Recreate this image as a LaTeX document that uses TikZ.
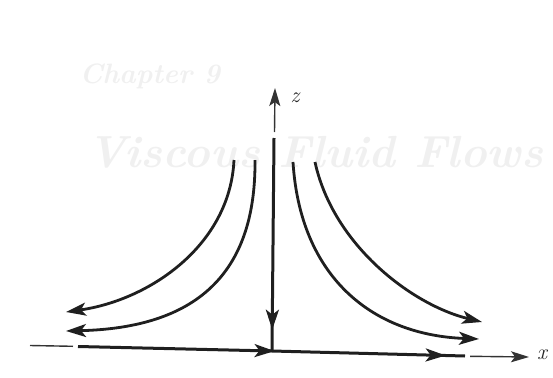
\documentclass[tikz,border=0pt]{standalone}
\usetikzlibrary{arrows.meta,decorations.markings}
\begin{document}
\begin{tikzpicture}[x=1pt,y=-1pt,
  flow/.style={line width=2.8pt,color=black!88,-{Stealth[length=20pt,width=13pt,inset=5pt]}},
  thinaxis/.style={line width=1.4pt,color=black!80},
  thickaxis/.style={line width=3pt,color=black!88},
  midleft/.style={postaction={decorate},decoration={markings,mark=at position #1 with {\arrow{Stealth[length=20pt,width=13pt,inset=5pt,reversed]}}}},
  midfwd/.style={postaction={decorate},decoration={markings,mark=at position #1 with {\arrow{Stealth[length=20pt,width=13pt,inset=5pt]}}}},
  ghost/.style={color=black!6},
  axlabel/.style={font=\itshape\fontsize{22}{22}\selectfont,color=black!85}]
\useasboundingbox (0,0) rectangle (553,377);
% faint show-through text
\node[ghost,anchor=west,font=\bfseries\itshape\fontsize{28}{28}\selectfont] (g1) at (76,76) {Chapter 9};
\node[ghost,anchor=west,font=\bfseries\itshape\fontsize{45}{45}\selectfont] (g2) at (84,152) {Viscous Fluid Flows};
% coordinates
\coordinate (O) at (272,351);
\coordinate (ztip) at (275,88);
\coordinate (zthinend) at (274.5,132);
\coordinate (zthickstart) at (274,138);
\coordinate (xl0) at (30,345.5);
\coordinate (xl1) at (73,346.3);
\coordinate (xl2) at (78,346.5);
\coordinate (xr1) at (465,356);
\coordinate (xr2) at (470,356.3);
\coordinate (xtip) at (529,357);
% z axis
\draw[thinaxis,-{Stealth[length=18pt,width=11pt,inset=4pt]}] (zthinend) -- (ztip);
\draw[thickaxis,midfwd=0.9] (zthickstart) -- (O);
\node[axlabel] (zl) at (295,98) {z};
% x axis
\draw[thinaxis] (xl0) -- (xl1);
\draw[thickaxis,midleft=0.09] (O) -- (xl2);
\draw[thickaxis,midfwd=0.9] (O) -- (xr1);
\draw[thinaxis,-{Stealth[length=18pt,width=11pt,inset=4pt]}] (xr2) -- (xtip);
\node[axlabel] (xlab) at (542,355) {x};
% streamlines
\coordinate (a0) at (234,160); \coordinate (a1) at (66,312);
\coordinate (b0) at (255,160); \coordinate (b1) at (66,331);
\coordinate (c0) at (293,162); \coordinate (c1) at (479,339);
\coordinate (d0) at (315,162); \coordinate (d1) at (482,322);
\draw[flow] (a0) .. controls (230,245) and (150,300) .. (a1);
\draw[flow] (b0) .. controls (256,275) and (195,328) .. (b1);
\draw[flow] (c0) .. controls (300,275) and (370,335) .. (c1);
\draw[flow] (d0) .. controls (333,245) and (412,305) .. (d1);
\end{tikzpicture}
\end{document}
